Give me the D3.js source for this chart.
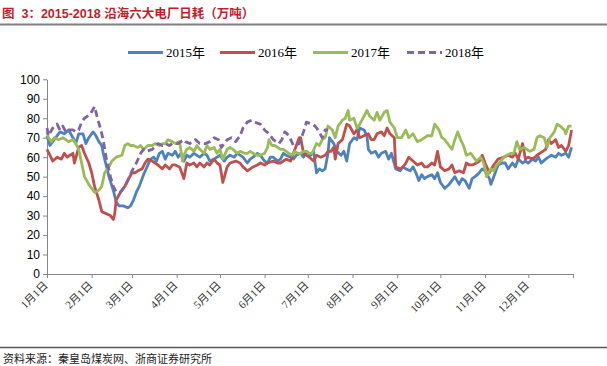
<!DOCTYPE html>
<html><head><meta charset="utf-8">
<script src="https://cdn.jsdelivr.net/npm/d3@7"></script>
<style>body{margin:0;background:#fff}svg{display:block}</style>
</head><body>
<svg id="chart" width="607" height="366"></svg>
<script>
// ---------- data ----------
const titleText = "图  3：2015-2018 沿海六大电厂日耗（万吨）";
const sourceText = "资料来源：秦皇岛煤炭网、浙商证券研究所";
const seriesNames = ["2015年", "2016年", "2017年", "2018年"];
const monthLabels = ["1月1日","2月1日","3月1日","4月1日","5月1日","6月1日","7月1日","8月1日","9月1日","10月1日","11月1日","12月1日"];
const yTicks = [0,10,20,30,40,50,60,70,80,90,100];

// [day of year, value]
const s2015 = [[0,71],[2,66],[5,69],[9,73],[12,72],[15,74],[18,70],[20,67],[22,72],[25,72],[27,67],[29,70],[32,73],[34,71],[36,68],[38,66],[39,62],[41,56],[43,50],[46,43],[48,37],[50,35],[53,35],[56,34],[58,35],[60,38],[62,42],[64,45],[67,51],[70,56],[72,59],[74,60],[76,58],[78,62],[80,63],[82,59],[84,62],[87,61],[89,63],[91,60],[93,62],[95,58],[97,61],[99,60],[102,62],[106,60],[109,62],[111,61],[113,58],[116,59],[120,61],[123,58],[125,60],[127,61],[130,60],[132,62],[136,60],[139,57],[141,59],[143,60],[146,62],[148,61],[151,58],[153,57],[155,60],[157,60],[160,58],[162,59],[164,62],[166,61],[169,60],[171,59],[173,61],[176,62],[178,60],[180,63],[183,61],[185,63],[187,52],[189,54],[191,53],[193,54],[195,62],[196,70],[199,67],[201,63],[204,61],[206,63],[208,58],[210,67],[213,70],[215,69],[217,75],[220,74],[222,71],[223,64],[225,62],[228,63],[230,60],[232,62],[235,63],[237,59],[239,62],[242,54],[245,53],[247,55],[249,54],[252,53],[254,55],[256,52],[258,48],[260,51],[262,49],[264,50],[267,51],[269,49],[271,52],[273,47],[276,44],[279,46],[281,48],[283,50],[286,46],[288,49],[290,48],[293,44],[295,49],[297,50],[300,52],[302,54],[304,53],[307,49],[308,46],[310,50],[313,56],[316,57],[318,57],[320,54],[323,57],[325,55],[327,59],[330,57],[332,58],[334,57],[337,59],[339,58],[341,60],[343,57],[346,59],[348,60],[350,61],[353,60],[355,62],[357,61],[360,62],[362,60],[364,65]];
const s2016 = [[0,64],[2,61],[4,58],[7,60],[10,59],[12,62],[14,60],[16,61],[18,62],[19,57],[22,65],[24,66],[26,62],[29,57],[31,52],[33,45],[36,38],[38,32],[41,31],[44,30],[46,28],[47,31],[48,38],[51,42],[54,45],[56,48],[59,52],[61,52],[63,53],[66,54],[68,57],[70,59],[73,58],[75,57],[77,56],[80,54],[82,56],[85,54],[87,56],[89,56],[92,55],[95,49],[97,57],[99,56],[102,57],[104,55],[106,57],[109,55],[111,57],[113,56],[116,59],[118,57],[120,56],[122,47],[125,55],[127,57],[131,58],[134,57],[136,55],[139,53],[141,54],[143,55],[146,56],[148,57],[151,56],[153,57],[157,58],[160,57],[162,57],[166,59],[169,58],[171,62],[173,66],[175,70],[176,70],[178,62],[182,60],[185,58],[187,61],[190,60],[193,61],[195,63],[197,63],[199,65],[200,59],[202,67],[205,69],[208,77],[210,76],[213,72],[215,74],[217,70],[220,71],[223,72],[225,69],[227,69],[229,72],[232,73],[234,71],[236,75],[238,72],[241,70],[242,55],[245,54],[247,55],[249,57],[251,60],[254,58],[257,56],[260,57],[262,55],[264,55],[267,57],[269,56],[271,63],[273,55],[276,53],[279,54],[281,56],[283,52],[286,53],[289,52],[291,57],[293,56],[295,56],[298,57],[300,58],[302,61],[304,57],[307,52],[310,56],[313,59],[317,60],[320,61],[323,60],[325,62],[327,59],[330,67],[332,59],[334,60],[337,59],[340,61],[344,63],[346,64],[348,69],[350,67],[353,69],[355,65],[357,66],[360,63],[362,66],[364,74]];
const s2017 = [[0,73],[1,70],[3,68],[5,70],[8,69],[11,70],[15,68],[18,69],[20,67],[22,64],[24,57],[26,50],[29,46],[31,44],[33,42],[36,43],[38,45],[40,52],[43,55],[45,58],[48,60],[52,61],[54,66],[56,67],[58,66],[60,66],[63,65],[65,66],[67,64],[70,66],[73,66],[75,67],[78,66],[80,67],[82,67],[84,69],[87,68],[89,67],[92,68],[94,58],[95,61],[97,64],[99,65],[102,63],[104,66],[106,64],[109,62],[111,66],[113,64],[116,65],[118,62],[120,64],[122,59],[125,64],[127,65],[129,64],[132,62],[134,63],[137,62],[139,62],[141,63],[143,62],[146,61],[148,61],[151,62],[153,65],[154,69],[156,66],[158,66],[160,65],[162,64],[164,64],[166,63],[168,62],[170,61],[172,63],[174,62],[176,62],[178,63],[180,63],[182,62],[184,62],[187,67],[189,66],[191,69],[193,70],[195,76],[198,74],[200,70],[202,76],[205,79],[207,80],[209,84],[210,79],[213,80],[215,75],[217,77],[220,81],[222,84],[224,81],[227,79],[229,83],[231,79],[234,83],[236,84],[238,78],[241,75],[243,70],[246,70],[249,74],[251,70],[254,72],[257,68],[260,69],[262,70],[264,71],[267,71],[269,77],[272,74],[274,70],[276,69],[279,66],[281,64],[283,69],[285,73],[287,69],[289,66],[291,61],[294,62],[296,60],[298,58],[301,60],[303,57],[305,50],[308,54],[310,53],[312,56],[315,58],[317,60],[319,61],[322,62],[324,62],[326,68],[328,64],[331,65],[333,64],[335,63],[338,64],[340,70],[342,71],[345,70],[347,65],[349,70],[352,73],[354,77],[356,76],[359,74],[360,72],[362,76],[364,76]];
const s2018 = [[0,75],[1,71],[4,75],[7,77],[9,74],[11,76],[13,73],[15,74],[18,74],[20,73],[22,74],[24,78],[26,80],[30,82],[33,86],[35,80],[37,75],[39,69],[41,60],[44,50],[46,45],[48,42],[51,42],[54,45],[56,48],[59,53],[62,57],[65,62],[67,64],[69,63],[73,64],[77,67],[80,66],[82,67],[85,66],[87,67],[91,67],[95,69],[96,68],[99,67],[103,69],[106,67],[110,67],[113,68],[116,70],[119,69],[121,65],[125,69],[128,70],[131,68],[134,71],[136,75],[139,78],[142,79],[144,78],[148,77],[151,74],[154,72],[157,69],[161,67],[163,69],[165,73],[168,71],[171,66],[175,67],[178,73],[180,78],[184,77],[186,76],[188,74],[191,70],[193,74],[195,74]];

// ---------- styles ----------
const colors = ["#4F81BD", "#C0504D", "#9BBB59", "#8064A2"];
const dashes = [null, null, null, "7,4"];
const allSeries = [s2015, s2016, s2017, s2018];

const svg = d3.select("#chart");
const start = new Date(2015, 0, 1), end = new Date(2016, 0, 1);
const x = d3.scaleTime().domain([start, end]).range([47, 573]);
const y = d3.scaleLinear().domain([0, 100]).range([274, 79.3]);
const dayDate = d => d3.timeDay.offset(start, d);

// title
svg.append("text").attr("x", 2).attr("y", 18)
  .style("white-space", "pre")
  .attr("font-family", "'Liberation Sans','Noto Sans CJK SC',sans-serif")
  .attr("font-size", 12.5).attr("font-weight", "bold").attr("fill", "#BE1E2D")
  .text(titleText);
svg.append("line").attr("x1", 0).attr("x2", 607).attr("y1", 24.5).attr("y2", 24.5)
  .attr("stroke", "#808080").attr("stroke-width", 2);

// footer
svg.append("line").attr("x1", 0).attr("x2", 607).attr("y1", 347.5).attr("y2", 347.5)
  .attr("stroke", "#595959").attr("stroke-width", 1.5);
svg.append("text").attr("x", 3).attr("y", 363)
  .attr("font-family", "'Noto Sans CJK SC',sans-serif")
  .attr("font-size", 11).attr("fill", "#222").text(sourceText);

// axes
const axisColor = "#868686";
const yAxis = d3.axisLeft(y).tickValues(yTicks).tickSize(4).tickSizeOuter(0).tickPadding(3);
const gy = svg.append("g").attr("transform", "translate(47,0)").call(yAxis);
gy.selectAll("path,line").attr("stroke", axisColor);
gy.selectAll("text").attr("font-family", "'Liberation Sans',Arial,sans-serif").attr("font-size", 12).attr("fill", "#000");

const monthTicks = d3.timeMonth.range(start, d3.timeDay.offset(end, 1));
const xAxis = d3.axisBottom(x).tickValues(monthTicks).tickSize(4).tickSizeOuter(0)
  .tickFormat((d, i) => i < monthLabels.length ? monthLabels[i] : "");
const gx = svg.append("g").attr("transform", "translate(0,274)").call(xAxis);
gx.selectAll("path,line").attr("stroke", axisColor);
gx.selectAll("text")
  .attr("font-family", "'Liberation Serif','Noto Sans CJK SC',serif")
  .attr("font-size", 11).attr("fill", "#333")
  .attr("text-anchor", "end").attr("x", 0).attr("y", 0).attr("dy", 0)
  .attr("transform", "translate(1,12) rotate(-45)");

// lines
const line = d3.line().x(d => x(dayDate(d[0]))).y(d => y(d[1]));
allSeries.forEach((s, i) => {
  svg.append("path").datum(s).attr("d", line)
    .attr("fill", "none").attr("stroke", colors[i]).attr("stroke-width", 2.8)
    .attr("stroke-linejoin", "round")
    .attr("stroke-dasharray", dashes[i]);
});

// legend
const legendX = [128, 220, 313, 407];
const lg = svg.append("g");
seriesNames.forEach((n, i) => {
  lg.append("line").attr("x1", legendX[i]).attr("x2", legendX[i] + 35)
    .attr("y1", 52.5).attr("y2", 52.5)
    .attr("stroke", colors[i]).attr("stroke-width", 2.8)
    .attr("stroke-dasharray", dashes[i]);
  lg.append("text").attr("x", legendX[i] + 38).attr("y", 57)
    .attr("font-family", "'Liberation Serif','Noto Sans CJK SC',serif")
    .attr("font-size", 13).attr("fill", "#000").text(n);
});
</script>
</body></html>
